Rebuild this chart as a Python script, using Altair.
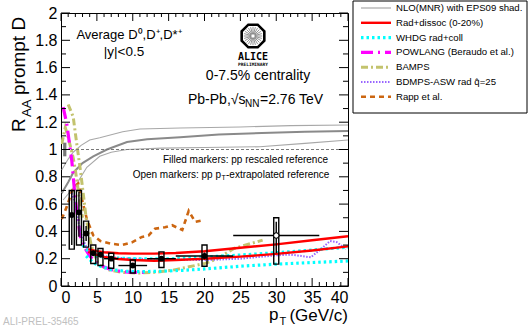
import math
import altair as alt
import pandas as pd

# ---------------- data ----------------
pt      = [1.5, 2.5, 3.5, 4.5, 5.5, 7, 10, 14, 20, 30]
raa     = [0.52, 0.54, 0.385, 0.24, 0.23, 0.20, 0.15, 0.20, 0.22, 0.37]
stat_lo = [0.30, 0.36, 0.33, 0.22, 0.21, 0.185, 0.135, 0.185, 0.195, 0.24]
stat_hi = [0.70, 0.69, 0.44, 0.26, 0.25, 0.215, 0.165, 0.215, 0.245, 0.47]
syst_lo = [0.27, 0.30, 0.285, 0.165, 0.15, 0.13, 0.095, 0.135, 0.145, 0.16]
syst_hi = [0.70, 0.70, 0.475, 0.30, 0.275, 0.24, 0.19, 0.25, 0.30, 0.50]
bin_lo  = [1.5, 2.5, 3.5, 4.5, 5.5, 6, 8, 12, 16, 24]
bin_hi  = [1.5, 2.5, 3.5, 4.5, 5.5, 8, 12, 16, 24, 36]
filled  = [1, 1, 1, 1, 1, 1, 1, 1, 1, 0]

nlo_c_x = [0.1, 1, 1.7, 3, 4.5, 6.4, 9.2, 12, 16.6, 22, 28, 34, 40]
nlo_c_y = [0.68, 0.76, 0.83, 0.90, 0.95, 1.0, 1.055, 1.075, 1.09, 1.11, 1.12, 1.13, 1.135]
nlo_u_x = [0.1, 1, 1.7, 2.8, 4, 5.4, 8.6, 11, 16.6, 25, 32, 40]
nlo_u_y = [0.85, 0.93, 0.98, 1.03, 1.07, 1.086, 1.13, 1.15, 1.157, 1.165, 1.175, 1.18]
nlo_l_x = [0.3, 2.2, 3.6, 5.4, 7, 9.2, 14, 20, 27.7, 34, 40]
nlo_l_y = [0.63, 0.75, 0.87, 0.95, 0.98, 1.0, 1.01, 1.015, 1.02, 1.045, 1.07]

red_u_x = [3.8, 5, 6, 8, 10, 13, 16, 20, 25, 30, 35, 40]
red_u_y = [0.27, 0.255, 0.247, 0.24, 0.237, 0.237, 0.242, 0.255, 0.28, 0.305, 0.335, 0.365]
red_l_x = [3.8, 5, 6, 8, 10, 13, 16, 20, 25, 30, 35, 40]
red_l_y = [0.25, 0.228, 0.213, 0.198, 0.19, 0.185, 0.19, 0.20, 0.215, 0.235, 0.26, 0.29]

cy_u_x = [3, 4, 5, 7, 10, 13, 16, 20, 26, 33, 40]
cy_u_y = [0.30, 0.245, 0.22, 0.205, 0.20, 0.198, 0.20, 0.212, 0.23, 0.255, 0.285]
cy_l_x = [3.5, 4.5, 5.5, 7, 9, 11, 14, 17, 20, 25, 30, 35, 40]
cy_l_y = [0.22, 0.17, 0.145, 0.12, 0.108, 0.105, 0.108, 0.115, 0.125, 0.145, 0.16, 0.172, 0.183]

pow_x = [0.3, 0.8, 1.5, 2.0, 2.7, 3.2, 4, 5, 6, 7, 8.5, 10, 12]
pow_y = [1.31, 1.19, 0.92, 0.63, 0.36, 0.29, 0.22, 0.17, 0.14, 0.12, 0.105, 0.10, 0.10]

bamps_u_x = [1.0, 1.7, 2.2, 2.7, 3.0, 3.5, 4.2, 5.2, 6.5, 8.5, 10.8, 13, 15.5, 18.7, 20.1, 21.8, 24.1, 28.1]
bamps_u_y = [1.33, 1.24, 1.04, 0.85, 0.72, 0.50, 0.30, 0.16, 0.12, 0.10, 0.095, 0.10, 0.115, 0.15, 0.166, 0.20, 0.275, 0.336]
bamps_l_x = [0.1, 0.6, 1.0, 1.7, 2.0, 2.4, 3.0]
bamps_l_y = [1.04, 1.16, 1.09, 0.94, 0.85, 0.70, 0.50]

bdmps_x = [1.5, 2, 2.5, 3, 3.5, 4, 5, 7, 10, 15, 20, 25, 30, 32, 33.5, 34.8, 36, 37.5, 38.5, 39.7]
bdmps_y = [0.68, 0.60, 0.45, 0.35, 0.29, 0.26, 0.23, 0.21, 0.20, 0.195, 0.19, 0.20, 0.225, 0.23, 0.22, 0.21, 0.26, 0.33, 0.32, 0.27]

rapp_x = [0.1, 0.8, 1.7, 2.4, 2.9, 3.6, 4.5, 5.5, 7, 8.5, 9.9, 11.3, 12.2, 13.1, 14.5, 15.5, 16.9, 17.8, 18.7, 19.6]
rapp_y = [0.49, 0.58, 0.72, 0.75, 0.64, 0.49, 0.37, 0.33, 0.31, 0.30, 0.32, 0.36, 0.37, 0.42, 0.43, 0.445, 0.41, 0.55, 0.47, 0.48]

x_major = [0, 5, 10, 15, 20, 25, 30, 35, 40]
x_minor = [v for v in range(41) if v % 5]
y_major = [0, 0.2, 0.4, 0.6, 0.8, 1, 1.2, 1.4, 1.6, 1.8, 2]
y_minor = [0.1, 0.3, 0.5, 0.7, 0.9, 1.1, 1.3, 1.5, 1.7, 1.9]

legend_names = ["NLO(MNR) with EPS09 shad.", "Rad+dissoc (0-20%)", "WHDG rad+coll",
                "POWLANG (Beraudo et al.)", "BAMPS", "BDMPS-ASW rad q\u0302=25", "Rapp et al."]

# ---------------- layout ----------------
L, T, W, H = 61, 13, 287, 273
FONT = "Liberation Sans"
XS = alt.Scale(domain=[0, 40], nice=False, zero=False)
YS = alt.Scale(domain=[0, 2], nice=False, zero=False)
XA = alt.Axis(values=x_major, ticks=False, domain=False, grid=False, title=None,
              labelFontSize=16, labelPadding=3, labelFont=FONT, labelColor="black")
YA = alt.Axis(values=y_major, ticks=False, domain=False, grid=False, title=None, format="~g",
              labelFontSize=16, labelPadding=4, labelFont=FONT, labelColor="black")
one = pd.DataFrame({"a": [0]})

GRAY_C, GRAY_O = "#8a8a8a", "#a8a8a8"
RED, CYAN, MAG, OLIVE, PURP, ORNG = "#ff0000", "#00ffff", "#ff00ff", "#c3c36e", "#9966ff", "#cc6611"

STY = {
    "nlo": dict(color=GRAY_O, strokeWidth=1.2),
    "red": dict(color=RED, strokeWidth=2.4),
    "cyan": dict(color=CYAN, strokeWidth=3.2, strokeDash=[2.5, 3]),
    "mag": dict(color=MAG, strokeWidth=3.2, strokeDash=[12, 5, 2, 5]),
    "olive": dict(color=OLIVE, strokeWidth=3, strokeDash=[7, 3, 2, 3]),
    "purp": dict(color=PURP, strokeWidth=2, strokeDash=[1.5, 1.5]),
    "orng": dict(color=ORNG, strokeWidth=2.6, strokeDash=[5, 4]),
}


def curve(xs, ys, **style):
    df = pd.DataFrame({"x": xs, "y": ys, "o": list(range(len(xs)))})
    return alt.Chart(df).mark_line(clip=True, **style).encode(
        x=alt.X("x:Q", scale=XS, axis=XA), y=alt.Y("y:Q", scale=YS, axis=YA), order="o:Q")


def txt(s, x, y, size, align="left", baseline="middle", angle=0, bold=False, color="black", font=FONT):
    kw = dict(text=s, fontSize=size, align=align, baseline=baseline, font=font, color=color)
    if angle:
        kw["angle"] = angle
    if bold:
        kw["fontWeight"] = "bold"
    return alt.Chart(one).mark_text(**kw).encode(x=alt.value(x - L), y=alt.value(y - T))


layers = []

# model curves
layers += [
    curve(nlo_u_x, nlo_u_y, color=GRAY_O, strokeWidth=1.1),
    curve(nlo_l_x, nlo_l_y, color=GRAY_O, strokeWidth=1.1),
    curve(nlo_c_x, nlo_c_y, color=GRAY_C, strokeWidth=2),
    curve(rapp_x, rapp_y, **STY["orng"]),
    curve(bamps_l_x, bamps_l_y, **STY["olive"]),
    curve(bamps_u_x, bamps_u_y, **STY["olive"]),
    curve(pow_x, pow_y, **STY["mag"]),
    curve(bdmps_x, bdmps_y, **STY["purp"]),
    curve(cy_l_x, cy_l_y, **STY["cyan"]),
    curve(cy_u_x, cy_u_y, **STY["cyan"]),
    curve(red_u_x, red_u_y, **STY["red"]),
    curve(red_l_x, red_l_y, **STY["red"]),
]

# reference line at 1 and normalisation box
layers.append(alt.Chart(pd.DataFrame({"y": [1]})).mark_rule(color="#777777", strokeDash=[3, 2], strokeWidth=1).encode(
    y=alt.Y("y:Q", scale=YS, axis=YA), x=alt.value(0), x2=alt.value(W)))
layers.append(alt.Chart(pd.DataFrame({"x": [0.3], "x2": [0.75], "y": [0.95], "y2": [1.05]})).mark_rect(
    color="#777777").encode(x=alt.X("x:Q", scale=XS, axis=XA), x2="x2:Q",
                            y=alt.Y("y:Q", scale=YS, axis=YA), y2="y2:Q"))

# data points
HALF = 0.35
dd = pd.DataFrame({"x": pt, "y": raa, "slo": stat_lo, "shi": stat_hi, "ylo": syst_lo, "yhi": syst_hi,
                   "blo": bin_lo, "bhi": bin_hi, "f": filled,
                   "bx1": [p - HALF for p in pt], "bx2": [p + HALF for p in pt]})
base = alt.Chart(dd)
layers += [
    base.mark_rect(fillOpacity=0, stroke="black", strokeWidth=1.4).encode(
        x=alt.X("bx1:Q", scale=XS, axis=XA), x2="bx2:Q", y=alt.Y("ylo:Q", scale=YS, axis=YA), y2="yhi:Q"),
    base.mark_rule(color="black", strokeWidth=1.4).encode(
        x=alt.X("blo:Q", scale=XS, axis=XA), x2="bhi:Q", y=alt.Y("y:Q", scale=YS, axis=YA)),
    base.mark_rule(color="black", strokeWidth=1.4).encode(
        x=alt.X("x:Q", scale=XS, axis=XA), y=alt.Y("slo:Q", scale=YS, axis=YA), y2="shi:Q"),
    base.transform_filter("datum.f == 1").mark_point(filled=True, color="black", size=34, opacity=1).encode(
        x=alt.X("x:Q", scale=XS, axis=XA), y=alt.Y("y:Q", scale=YS, axis=YA)),
    base.transform_filter("datum.f == 0").mark_point(shape="circle", filled=True, fill="white", stroke="black",
                                                       strokeWidth=1.2, size=30, opacity=1).encode(
        x=alt.X("x:Q", scale=XS, axis=XA), y=alt.Y("y:Q", scale=YS, axis=YA)),
]

# inward ticks on all four sides
def yticks(vals, ln):
    d = alt.Chart(pd.DataFrame({"y": vals}))
    return [d.mark_rule(color="black").encode(y=alt.Y("y:Q", scale=YS, axis=YA), x=alt.value(0), x2=alt.value(ln)),
            d.mark_rule(color="black").encode(y=alt.Y("y:Q", scale=YS, axis=YA), x=alt.value(W - ln), x2=alt.value(W))]


def xticks(vals, ln):
    d = alt.Chart(pd.DataFrame({"x": vals}))
    return [d.mark_rule(color="black").encode(x=alt.X("x:Q", scale=XS, axis=XA), y=alt.value(H), y2=alt.value(H - ln)),
            d.mark_rule(color="black").encode(x=alt.X("x:Q", scale=XS, axis=XA), y=alt.value(0), y2=alt.value(ln))]


layers += yticks(y_major, 9) + yticks(y_minor, 5) + xticks(x_major, 8) + xticks(x_minor, 4)

# axis titles
layers += [
    txt("R", 19, 132, 19, angle=270),
    txt("AA", 27, 117, 13, angle=270),
    txt("prompt D", 19, 95, 19, angle=270),
    txt("(GeV/c)", 348, 316, 17, align="right"),
    txt("T", 279.5, 321.5, 11),
    txt("p", 278.5, 315, 17, align="right"),
]

# annotations
layers += [
    txt("Average D\u2070,D\u207a,D*\u207a", 129, 35, 13, align="center"),
    txt("|y|<0.5", 124, 52, 13.5, align="center"),
    txt("0-7.5% centrality", 258, 76, 14, align="center"),
    txt("Pb-Pb,\u221as", 188, 100, 14),
    txt("NN", 245, 104, 10),
    txt("=2.76 TeV", 260, 100, 14),
    txt("Filled markers: pp rescaled reference", 328, 160, 10, align="right"),
    txt("Open markers: pp p", 221, 175, 10, align="right"),
    txt("T", 221.5, 178, 7),
    txt("-extrapolated reference", 226, 175, 10),
    txt("ALI-PREL-35465", 3, 322, 10, color="#c0c0c0"),
]

# ALICE logo
octagon = "M-0.383,-0.924L0.383,-0.924L0.924,-0.383L0.924,0.383L0.383,0.924L-0.383,0.924L-0.924,0.383L-0.924,-0.383Z"
spokes = "".join(
    f"M{0.15*math.cos(a):.3f},{0.15*math.sin(a):.3f}L{0.75*math.cos(a):.3f},{0.75*math.sin(a):.3f}"
    for a in [k * math.pi / 12 for k in range(24)])
LOGO_X, LOGO_Y = 253, 36
layers += [
    alt.Chart(one).mark_point(shape=spokes, filled=False, stroke="#666666", strokeWidth=0.7, size=600,
                              opacity=1).encode(x=alt.value(LOGO_X - L), y=alt.value(LOGO_Y - T)),
    alt.Chart(one).mark_point(shape=octagon, filled=False, stroke="black", strokeWidth=2.6, size=600,
                              opacity=1).encode(x=alt.value(LOGO_X - L), y=alt.value(LOGO_Y - T)),
    txt("ALICE", LOGO_X, 57, 10, align="center", bold=True, font="DejaVu Sans Mono"),
    txt("PRELIMINARY", LOGO_X, 64.5, 4.5, align="center", bold=True, font="DejaVu Sans Mono"),
]

# legend
LG_TOP, LG_BOT, LG_L, LG_R = 1, 113, 353, 527
ROW0, STEP = 8, 14.8
layers.append(alt.Chart(one).mark_rect(fillOpacity=0, stroke="black", strokeWidth=1).encode(
    x=alt.value(LG_L - L), x2=alt.value(LG_R - L), y=alt.value(LG_TOP - T), y2=alt.value(LG_BOT - T)))
leg_styles = [STY["nlo"], STY["red"], STY["cyan"], STY["mag"], STY["olive"], STY["purp"], STY["orng"]]
for i, (name, st) in enumerate(zip(legend_names, leg_styles)):
    yy = ROW0 + STEP * i
    layers.append(alt.Chart(one).mark_rule(**st).encode(
        x=alt.value(361 - L), x2=alt.value(391 - L), y=alt.value(yy - T)))
    layers.append(txt(name, 396, yy, 9.6))

chart = alt.layer(*layers).properties(
    width=W, height=H, autosize="none",
    padding={"left": L, "top": T, "right": 528 - L - W, "bottom": 328 - T - H},
).configure_view(stroke="black", strokeWidth=1).configure_axis(labelFont=FONT)

chart.save("out.html", embed_options={"renderer": "svg", "actions": False})
